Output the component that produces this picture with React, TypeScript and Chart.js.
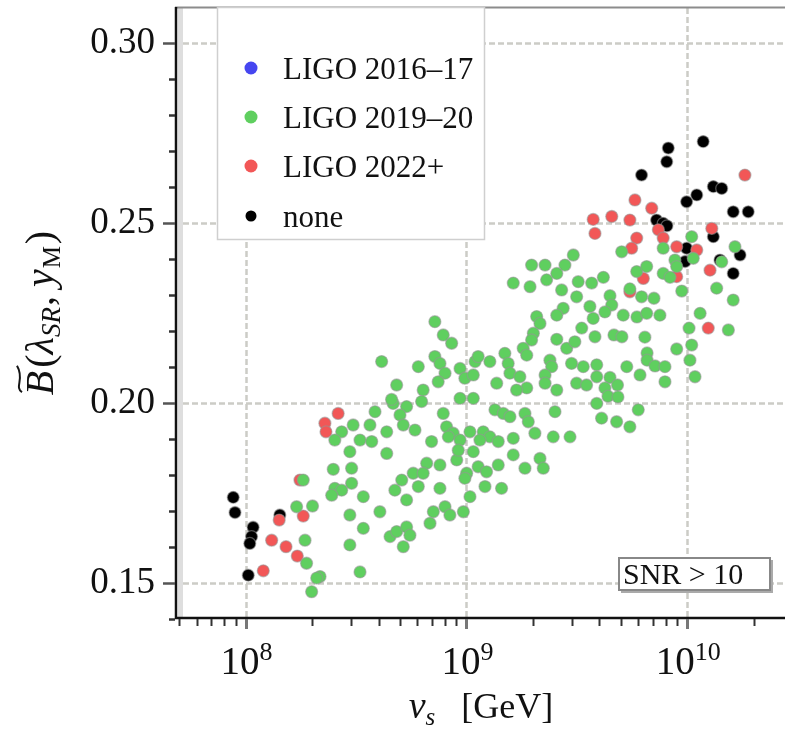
import React, { useEffect, useRef } from 'react';
import { Chart, registerables } from 'chart.js';
Chart.register(...registerables);

// ---------- data: each point is [log10(v_s / GeV), B~] ----------
const seriesLabels = ['LIGO 2016–17', 'LIGO 2019–20', 'LIGO 2022+', 'none'];
const seriesColors = ['#4646f0', '#5fcf5f', '#f25757', '#000000'];

const ligo1617: [number, number][] = [];

const ligo1920: [number, number][] = [
  [8.586,0.1976],[8.668,0.1999],[8.563,0.1939],[8.487,0.1939],[8.435,0.1920],[8.404,0.1897],[8.518,0.1897],[8.571,0.1893],[8.639,0.1920],[8.472,0.1865],
  [8.639,0.1860],[8.397,0.1816],[8.480,0.1819],[8.261,0.1786],[8.404,0.1763],[8.480,0.1777],[8.435,0.1758],[8.390,0.1744],[8.533,0.1740],[8.676,0.1758],
  [8.231,0.1712],[8.303,0.1714],[8.472,0.1689],[8.608,0.1698],[8.533,0.1652],[8.269,0.1619],[8.472,0.1606],[8.654,0.1629],[8.684,0.1643],[8.276,0.1555],
  [8.337,0.1518],[8.322,0.1514],[8.299,0.1476],[8.518,0.1531],
  [8.857,0.2226],[8.895,0.2189],[8.933,0.2166],[8.616,0.2115],[8.782,0.2101],[8.857,0.2129],[8.880,0.2110],[8.903,0.2083],[8.872,0.2059],[8.971,0.2096],
  [8.993,0.2069],[9.031,0.2078],[9.039,0.2115],[8.684,0.2050],[8.804,0.2036],[8.661,0.2010],[8.797,0.2004],[8.971,0.2013],[9.031,0.2013],[8.729,0.1990],
  [8.699,0.1967],[8.895,0.1971],[8.714,0.1939],[8.767,0.1925],[8.910,0.1934],[8.940,0.1916],[8.918,0.1906],[8.842,0.1893],[8.971,0.1897],[9.016,0.1920],
  [9.031,0.1865],[8.820,0.1833],[8.880,0.1828],[8.956,0.1842],[8.759,0.1805],[8.804,0.1805],[9.001,0.1805],
  [9.484,0.2411],[9.295,0.2383],[9.356,0.2383],[9.446,0.2383],[9.409,0.2360],[9.212,0.2333],[9.288,0.2323],[9.363,0.2342],[9.431,0.2314],[9.506,0.2337],
  [9.567,0.2333],[9.499,0.2295],[9.559,0.2268],[9.438,0.2263],[9.318,0.2240],[9.333,0.2221],[9.409,0.2244],[9.522,0.2208],[9.574,0.2235],[9.303,0.2194],
  [9.295,0.2175],[9.409,0.2177],[9.454,0.2152],[9.491,0.2170],[9.582,0.2184],[9.257,0.2152],[9.273,0.2133],[9.174,0.2138],[9.053,0.2129],[9.106,0.2115],
  [9.189,0.2110],[9.378,0.2119],[9.386,0.2101],[9.476,0.2110],[9.529,0.2101],[9.590,0.2106],[9.137,0.2055],[9.197,0.2083],[9.242,0.2073],[9.273,0.2042],
  [9.356,0.2078],[9.356,0.2055],[9.409,0.2036],[9.499,0.2055],[9.544,0.2050],[9.590,0.2073],[9.227,0.2036],
  [9.129,0.1981],[9.167,0.1971],[9.197,0.1962],[9.265,0.1971],[9.280,0.1948],[9.401,0.1976],[9.076,0.1920],[9.106,0.1906],[9.061,0.1897],[9.144,0.1893],
  [9.212,0.1902],[9.310,0.1916],[9.393,0.1906],[9.469,0.1906],[8.963,0.1869],[9.212,0.1856],[9.333,0.1846],[9.053,0.1823],[9.091,0.1809],[9.144,0.1828],
  [9.265,0.1819],[9.348,0.1819],[8.707,0.1786],[8.993,0.1791],[8.782,0.1768],[8.880,0.1763],[9.084,0.1768],[9.159,0.1763],[8.729,0.1731],[9.016,0.1740],
  [8.850,0.1698],[8.903,0.1712],[8.925,0.1689],[8.986,0.1698],[8.835,0.1666],[8.729,0.1656],[8.744,0.1633],[8.714,0.1601],
  [9.703,0.2420],[9.891,0.2430],[9.944,0.2397],[9.952,0.2379],[10.027,0.2402],[10.156,0.2392],[10.216,0.2434],[10.020,0.2462],[9.771,0.2365],[9.816,0.2379],
  [9.891,0.2360],[9.922,0.2349],[9.975,0.2311],[10.133,0.2319],[10.208,0.2286],[9.620,0.2349],[9.650,0.2298],[9.658,0.2272],[9.740,0.2317],[9.793,0.2295],
  [9.849,0.2291],[9.627,0.2253],[9.710,0.2244],[9.772,0.2239],[9.816,0.2249],[9.876,0.2244],[10.058,0.2249],[10.008,0.2208],[10.186,0.2203],[9.668,0.2189],
  [9.704,0.2184],[9.808,0.2183],[9.818,0.2139],[9.818,0.2119],[9.952,0.2150],[10.020,0.2161],[10.012,0.2119],[9.726,0.2101],[9.854,0.2103],[9.899,0.2101],
  [10.035,0.2073],[9.786,0.2078],[9.899,0.2059],[9.650,0.2071],[9.684,0.2050],[9.627,0.2042],[9.641,0.2019],[9.686,0.2017],[9.590,0.1999],[9.778,0.1981],
  [9.612,0.1958],[9.680,0.1948],[9.740,0.1934],
];

const ligo22: [number, number][] = [
  [8.419,0.1971],[8.359,0.1944],[8.364,0.1920],[8.246,0.1786],[8.152,0.1675],[8.261,0.1686],[8.118,0.1619],[8.183,0.1601],[8.234,0.1575],[8.080,0.1534],
  [10.261,0.2633],[9.763,0.2564],[9.839,0.2541],[9.574,0.2510],[9.658,0.2518],[9.740,0.2508],[9.582,0.2471],[9.869,0.2481],[9.891,0.2458],[9.771,0.2458],
  [9.748,0.2430],[9.952,0.2434],[10.111,0.2485],[10.043,0.2425],[10.103,0.2369],[9.952,0.2351],[9.801,0.2346],[9.740,0.2309],[10.095,0.2208],
];

const noneSeries: [number, number][] = [
  [7.944,0.1738],[7.952,0.1696],[8.034,0.1655],[8.027,0.1629],[8.019,0.1610],[8.012,0.1522],[8.155,0.1689],
  [10.072,0.2726],[9.914,0.2708],[9.907,0.2670],[9.793,0.2633],[10.118,0.2601],[10.156,0.2596],[10.043,0.2578],[9.997,0.2559],
  [10.208,0.2531],[10.276,0.2531],[9.861,0.2508],[9.891,0.2499],[9.908,0.2492],[10.118,0.2462],[9.997,0.2430],[9.990,0.2393],
  [10.148,0.2397],[10.239,0.2411],[10.208,0.2360],
];

// ---------- axes ----------
const xMin = 4.89e7, xMax = 2.77e10;
const yMin = 0.1403, yMax = 0.3097;
const xMajorTicks = [1e8, 1e9, 1e10];
const xMajorExponents = ['8', '9', '10'];
const yMajorTicks = [0.15, 0.2, 0.25, 0.3];
const yTickLabels = ['0.15', '0.20', '0.25', '0.30'];
const yMinorTicks = [0.14, 0.16, 0.17, 0.18, 0.19, 0.21, 0.22, 0.23, 0.24, 0.26, 0.27, 0.28, 0.29];
const xTitle = { v: 'v', sub: 's', unit: '[GeV]' };
const annotation = 'SNR > 10';

const SERIF = '"Liberation Serif", "DejaVu Serif", serif';

type Run = { t: string; f: string; dy?: number; dx?: number };
function runsWidth(ctx: CanvasRenderingContext2D, runs: Run[]) {
  let w = 0;
  for (const r of runs) { ctx.font = r.f; w += ctx.measureText(r.t).width + (r.dx || 0); }
  return w;
}
function drawRuns(ctx: CanvasRenderingContext2D, runs: Run[], x: number, y: number) {
  let cx = x;
  const pos: number[] = [];
  for (const r of runs) {
    ctx.font = r.f;
    cx += r.dx || 0;
    pos.push(cx);
    ctx.fillText(r.t, cx, y + (r.dy || 0));
    cx += ctx.measureText(r.t).width;
  }
  return pos;
}

const decorPlugin = {
  id: 'decor',
  beforeDatasetsDraw(chart: any) {
    const { ctx, chartArea: a, scales } = chart;
    const xs = scales.x, ys = scales.y;
    ctx.save();
    ctx.fillStyle = '#dedede';
    ctx.fillRect(a.left + 1, a.top, 5, a.bottom - a.top);
    ctx.strokeStyle = 'rgb(204,204,198)';
    ctx.lineWidth = 2.5;
    ctx.setLineDash([6, 3]);
    for (const v of xMajorTicks) {
      const px = Math.round(xs.getPixelForValue(v)) + 0.5;
      ctx.beginPath(); ctx.moveTo(px, a.top); ctx.lineTo(px, a.bottom); ctx.stroke();
    }
    for (const v of yMajorTicks) {
      const py = Math.round(ys.getPixelForValue(v)) + 0.5;
      ctx.beginPath(); ctx.moveTo(a.left + 6, py); ctx.lineTo(a.right, py); ctx.stroke();
    }
    ctx.restore();
  },
  afterDatasetsDraw(chart: any) {
    const { ctx, chartArea: a, scales } = chart;
    const xs = scales.x, ys = scales.y;
    ctx.save();
    ctx.setLineDash([]);
    ctx.textBaseline = 'alphabetic';

    // spines
    ctx.strokeStyle = '#8c8c8c'; ctx.lineWidth = 2;
    ctx.beginPath(); ctx.moveTo(a.left - 2, a.top - 0.5); ctx.lineTo(a.right, a.top - 0.5); ctx.stroke();
    ctx.strokeStyle = '#111'; ctx.lineWidth = 2.5;
    ctx.beginPath(); ctx.moveTo(a.left - 1, a.top - 1); ctx.lineTo(a.left - 1, a.bottom + 1); ctx.stroke();
    ctx.beginPath(); ctx.moveTo(a.left - 2, a.bottom); ctx.lineTo(a.right, a.bottom); ctx.stroke();

    // y ticks
    ctx.lineWidth = 2.5;
    ctx.strokeStyle = '#555';
    for (const v of yMajorTicks) {
      const py = Math.round(ys.getPixelForValue(v)) + 0.5;
      ctx.beginPath(); ctx.moveTo(a.left - 14, py); ctx.lineTo(a.left - 2, py); ctx.stroke();
    }
    ctx.strokeStyle = '#333';
    for (const v of yMinorTicks) {
      const py = Math.round(ys.getPixelForValue(v)) + 0.5;
      ctx.beginPath(); ctx.moveTo(a.left - 8, py); ctx.lineTo(a.left - 2, py); ctx.stroke();
    }
    // y labels
    ctx.fillStyle = '#111';
    ctx.font = `37px ${SERIF}`;
    ctx.textAlign = 'right';
    yMajorTicks.forEach((v, i) => {
      const py = ys.getPixelForValue(v);
      ctx.fillText(yTickLabels[i], a.left - 22, py + 10);
    });
    ctx.textAlign = 'left';

    // x ticks
    ctx.strokeStyle = '#333'; ctx.lineWidth = 2;
    for (let e = 7; e <= 10; e++) {
      for (let m = 2; m <= 9; m++) {
        const v = m * Math.pow(10, e);
        if (v < xMin || v > xMax) continue;
        const px = Math.round(xs.getPixelForValue(v)) + 0.5;
        ctx.beginPath(); ctx.moveTo(px, a.bottom + 1); ctx.lineTo(px, a.bottom + 8); ctx.stroke();
      }
    }
    ctx.strokeStyle = '#777'; ctx.lineWidth = 3;
    for (const v of xMajorTicks) {
      const px = Math.round(xs.getPixelForValue(v)) + 0.5;
      ctx.beginPath(); ctx.moveTo(px, a.bottom + 1); ctx.lineTo(px, a.bottom + 11); ctx.stroke();
    }
    // x labels 10^n
    xMajorTicks.forEach((v, i) => {
      const px = xs.getPixelForValue(v);
      const runs: Run[] = [
        { t: '10', f: `39px ${SERIF}` },
        { t: xMajorExponents[i], f: `26px ${SERIF}`, dy: -14 },
      ];
      const w = runsWidth(ctx, runs);
      drawRuns(ctx, runs, px - w / 2 + 1, a.bottom + 56);
    });

    // x title
    {
      const runs: Run[] = [
        { t: xTitle.v, f: `italic 38px ${SERIF}` },
        { t: xTitle.sub, f: `italic 25px ${SERIF}`, dy: 7 },
        { t: xTitle.unit, f: `36px ${SERIF}`, dx: 26 },
      ];
      const w = runsWidth(ctx, runs);
      drawRuns(ctx, runs, (a.left + a.right) / 2 - w / 2, a.bottom + 100);
    }

    // y title (rotated)
    {
      const runs: Run[] = [
        { t: 'B', f: `italic 40px ${SERIF}` },
        { t: '(', f: `40px ${SERIF}`, dx: 3 },
        { t: 'λ', f: `italic 40px ${SERIF}` },
        { t: 'SR', f: `italic 27px ${SERIF}`, dy: 7 },
        { t: ',', f: `40px ${SERIF}`, dx: 1 },
        { t: 'y', f: `italic 40px ${SERIF}`, dx: 9 },
        { t: 'M', f: `25px ${SERIF}`, dy: 7, dx: 1 },
        { t: ')', f: `40px ${SERIF}`, dx: 2 },
      ];
      ctx.save();
      ctx.translate(53, (a.top + a.bottom) / 2);
      ctx.rotate(-Math.PI / 2);
      const w = runsWidth(ctx, runs);
      const pos = drawRuns(ctx, runs, -w / 2, 0);
      ctx.font = runs[0].f;
      const bw = ctx.measureText('B').width;
      const bx = pos[0];
      ctx.strokeStyle = '#151515'; ctx.lineWidth = 2;
      ctx.beginPath();
      ctx.moveTo(bx + 3, -31);
      ctx.bezierCurveTo(bx + bw * 0.35, -39, bx + bw * 0.65, -28, bx + bw + 5, -36);
      ctx.stroke();
      ctx.restore();
    }

    // legend box
    ctx.fillStyle = '#fff';
    ctx.fillRect(217, a.top - 1, 268, 233);
    ctx.strokeStyle = '#cfcfcf'; ctx.lineWidth = 1.5;
    ctx.strokeRect(217.5, a.top - 0.5, 267, 232);
    const legendY = [68, 117, 166, 216];
    seriesLabels.forEach((lab, i) => {
      const cy = legendY[i];
      ctx.fillStyle = seriesColors[i];
      ctx.beginPath(); ctx.arc(251, cy, i === 3 ? 5.5 : 6.5, 0, Math.PI * 2); ctx.fill();
      ctx.fillStyle = '#111';
      ctx.font = `31px ${SERIF}`;
      ctx.fillText(lab, 283, cy + 11);
    });

    // SNR annotation box
    ctx.fillStyle = '#fff';
    ctx.fillRect(619, 558, 151, 32);
    ctx.strokeStyle = '#888'; ctx.lineWidth = 2;
    ctx.strokeRect(619, 558, 151, 32);
    ctx.strokeStyle = '#aaa'; ctx.lineWidth = 2;
    ctx.beginPath(); ctx.moveTo(772, 560); ctx.lineTo(772, 592); ctx.lineTo(621, 592); ctx.stroke();
    ctx.fillStyle = '#111';
    ctx.font = `30px ${SERIF}`;
    ctx.fillText(annotation, 623, 584);

    ctx.restore();
  },
};

function toPoints(arr: [number, number][]) {
  return arr.map(([lx, b]) => ({ x: Math.pow(10, lx), y: b }));
}

export default function App() {
  const ref = useRef<HTMLCanvasElement | null>(null);
  useEffect(() => {
    if (!ref.current) return;
    const all = [ligo1617, ligo1920, ligo22, noneSeries];
    const chart = new Chart(ref.current, {
      type: 'scatter',
      data: {
        datasets: all.map((arr, i) => ({
          label: seriesLabels[i],
          data: toPoints(arr),
          backgroundColor: seriesColors[i],
          borderColor: 'rgba(150,150,150,0.55)',
          borderWidth: 1.3,
          pointRadius: 6,
          pointHoverRadius: 6,
        })),
      },
      options: {
        responsive: false,
        animation: false,
        devicePixelRatio: 1,
        layout: { padding: { left: 0, right: 0, top: 8, bottom: 0 }, autoPadding: false },
        plugins: { legend: { display: false }, tooltip: { enabled: false } },
        scales: {
          x: {
            type: 'logarithmic',
            min: xMin,
            max: xMax,
            bounds: 'data',
            grid: { display: false },
            border: { display: false },
            ticks: { display: false },
            afterFit: (s: any) => { s.height = 115; },
          },
          y: {
            type: 'linear',
            min: yMin,
            max: yMax,
            bounds: 'data',
            grid: { display: false },
            border: { display: false },
            ticks: { display: false },
            afterFit: (s: any) => { s.width = 177; },
          },
        },
      },
      plugins: [decorPlugin],
    } as any);
    return () => chart.destroy();
  }, []);
  return (
    <div style={{ position: 'absolute', left: 0, top: 0, width: 785, height: 733, background: '#fff' }}>
      <canvas ref={ref} width={785} height={733} />
    </div>
  );
}
